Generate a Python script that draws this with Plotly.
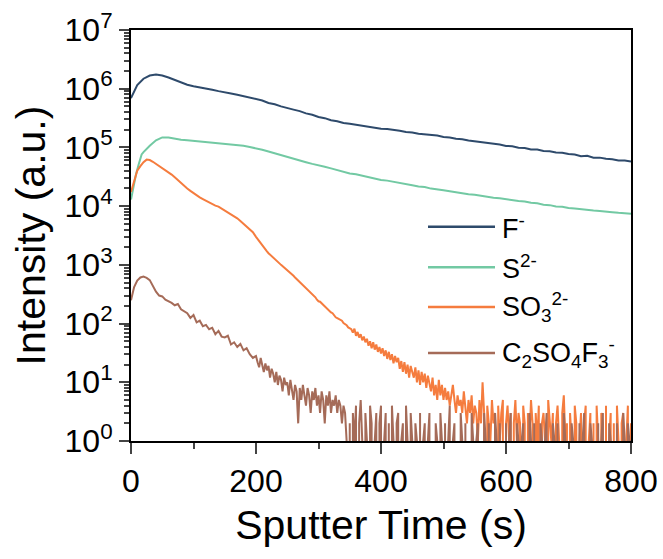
import plotly.graph_objects as go

# ---------------- data ----------------
t_f = list(range(0, 801, 10))
f_minus = [6.9e5, 1.15e6, 1.48e6, 1.68e6, 1.74e6, 1.68e6, 1.55e6, 1.41e6, 1.29e6, 1.17e6,
           1.10e6, 1.06e6, 1.00e6, 9.6e5, 9.1e5, 8.8e5, 8.3e5, 7.9e5, 7.5e5, 7.1e5,
           6.6e5, 6.3e5, 5.7e5, 5.45e5, 5.0e5, 4.75e5, 4.4e5, 4.15e5, 3.8e5, 3.6e5,
           3.3e5, 3.15e5, 2.9e5, 2.8e5, 2.6e5, 2.52e5, 2.42e5, 2.36e5, 2.22e5, 2.18e5,
           2.08e5, 2.06e5, 1.96e5, 1.92e5, 1.83e5, 1.80e5, 1.71e5, 1.68e5, 1.61e5, 1.59e5,
           1.50e5, 1.48e5, 1.40e5, 1.38e5, 1.31e5, 1.27e5, 1.22e5, 1.20e5, 1.14e5, 1.12e5,
           1.06e5, 1.05e5, 9.9e4, 9.8e4, 9.2e4, 9.2e4, 8.7e4, 8.6e4, 8.2e4, 8.1e4,
           7.7e4, 7.6e4, 7.1e4, 7.2e4, 6.7e4, 6.7e4, 6.4e4, 6.3e4, 6.0e4, 6.0e4, 5.75e4]

t_s = [0, 4, 8, 12, 15, 17] + list(range(20, 801, 10))
s_2minus = [1.3e4, 2.2e4, 3.5e4, 5.0e4, 6.9e4, 7.6e4,
            8.3e4, 1.07e5, 1.32e5, 1.48e5, 1.48e5, 1.41e5, 1.35e5, 1.32e5, 1.29e5, 1.27e5,
            1.26e5, 1.23e5, 1.20e5, 1.17e5, 1.15e5, 1.12e5, 1.07e5, 1.02e5, 9.7e4, 9.1e4,
            8.5e4, 7.9e4, 7.4e4, 6.9e4, 6.5e4, 6.0e4, 5.6e4, 5.25e4, 5.0e4, 4.7e4,
            4.4e4, 4.1e4, 3.85e4, 3.6e4, 3.5e4, 3.3e4, 3.1e4, 2.95e4, 2.8e4, 2.72e4,
            2.58e4, 2.47e4, 2.33e4, 2.27e4, 2.17e4, 2.11e4, 1.99e4, 1.94e4, 1.86e4, 1.79e4,
            1.71e4, 1.67e4, 1.59e4, 1.56e4, 1.49e4, 1.46e4, 1.39e4, 1.36e4, 1.30e4, 1.27e4,
            1.22e4, 1.20e4, 1.14e4, 1.12e4, 1.06e4, 1.04e4, 9.9e3, 9.8e3, 9.3e3, 9.1e3,
            8.8e3, 8.7e3, 8.4e3, 8.3e3, 8.0e3, 7.9e3, 7.7e3, 7.6e3, 7.4e3]

# noisy series: 5 s steps up to 200 s, then 2.5 s steps up to 800 s
t_n = list(range(0, 201, 5)) + [200 + 2.5 * i for i in range(1, 241)]

so3_2minus = [
    # 0 - 200 s
    1.74e4, 2.8e4, 4.0e4, 4.8e4, 5.6e4, 6.2e4, 6.1e4, 5.7e4, 5.25e4, 4.8e4,
    4.45e4, 4.1e4, 3.8e4, 3.45e4, 3.1e4, 2.75e4, 2.5e4, 2.25e4, 2.0e4, 1.82e4,
    1.66e4, 1.51e4, 1.41e4, 1.32e4, 1.23e4, 1.15e4, 1.10e4, 1.02e4, 9.8e3, 9.1e3,
    8.5e3, 7.8e3, 7.2e3, 6.6e3, 6.2e3, 5.6e3, 5.0e3, 4.6e3, 4.1e3, 3.6e3, 3.0e3,
    # 202.5 - 350 s
    2.75e3, 2.5e3, 2.3e3, 2.15e3, 1.98e3, 1.82e3, 1.7e3, 1.58e3, 1.5e3, 1.41e3,
    1.33e3, 1.26e3, 1.18e3, 1.12e3, 1.06e3, 1.0e3, 950, 910, 850, 810,
    770, 720, 690, 650, 610, 575, 540, 510, 490, 460,
    440, 415, 390, 365, 345, 325, 300, 280, 255, 240,
    236, 222, 212, 200, 184, 172, 166, 155, 150, 138,
    128, 124, 120, 113, 112, 102, 98, 94, 86, 83,
    # 352.5 - 800 s
    80, 70, 82, 62, 72, 58, 66, 52, 60, 48,
    55, 42, 50, 38, 48, 36, 44, 33, 40, 31,
    38, 28, 35, 25, 33, 24, 30, 21, 28, 22,
    26, 17, 23, 15, 22, 14, 20, 12, 19, 15,
    12, 18, 10, 16, 9, 15, 10, 14, 8, 13,
    10, 7, 12, 6, 9, 5, 11, 6, 9, 5,
    8, 5, 7, 4, 6, 9, 5, 3, 6, 4,
    5, 3, 7, 4, 2, 5, 3, 6, 2, 4,
    3, 1, 5, 2, 10, 3, 0, 4, 2, 1,
    5, 2, 3, 0, 4, 1, 3, 5, 0, 2,
    4, 1, 3, 0, 2, 5, 1, 3, 2, 0,
    4, 2, 0, 3, 1, 5, 2, 0, 3, 1,
    4, 0, 2, 3, 1, 0, 5, 2, 1, 3,
    0, 2, 4, 1, 0, 3, 6, 1, 2, 0,
    3, 1, 0, 4, 2, 0, 1, 3, 0, 2,
    4, 0, 1, 3, 0, 2, 0, 4, 1, 0,
    3, 2, 0, 4, 0, 1, 3, 0, 2, 0,
    4, 1, 0, 2, 3, 0, 1, 4, 0, 2]

c2so4f3_minus = [
    # 0 - 200 s
    250, 420, 540, 610, 630, 600, 550, 430, 350, 300,
    290, 255, 240, 225, 205, 215, 175, 160, 150, 125,
    140, 105, 112, 90, 95, 80, 85, 66, 75, 60,
    58, 62, 44, 48, 40, 45, 35, 38, 30, 26, 28,
    # 202.5 - 350 s
    22, 18, 26, 20, 15, 21, 16, 19, 12, 17,
    14, 10, 15, 9, 13, 11, 7, 12, 9, 10,
    6, 11, 8, 5, 9, 7, 2, 8, 5, 9,
    6, 4, 8, 6, 3, 7, 5, 8, 4, 6,
    3, 7, 5, 2, 6, 4, 7, 3, 5, 4,
    6, 3, 5, 4, 2, 4, 3, 1, 0, 2,
    # 352.5 - 800 s
    0, 3, 1, 4, 0, 2, 5, 1, 0, 3,
    1, 0, 4, 2, 0, 1, 3, 0, 2, 4,
    0, 1, 3, 0, 2, 0, 4, 1, 0, 2,
    3, 0, 1, 2, 0, 4, 1, 0, 3, 1,
    0, 2, 1, 0, 3, 0, 1, 2, 0, 1,
    3, 0, 1, 0, 2, 1, 0, 3, 1, 0,
    2, 0, 1, 4, 0, 1, 2, 0, 1, 0,
    3, 1, 0, 2, 0, 1, 0, 3, 1, 0,
    1, 2, 0, 1, 0, 3, 1, 0, 2, 0,
    1, 0, 3, 1, 0, 2, 0, 1, 0, 2,
    0, 1, 3, 0, 1, 0, 2, 1, 0, 1,
    2, 0, 1, 0, 3, 1, 0, 2, 0, 1,
    0, 2, 1, 0, 1, 3, 0, 1, 0, 2,
    1, 0, 2, 0, 1, 0, 3, 1, 0, 1,
    0, 2, 1, 0, 1, 0, 2, 0, 1, 3,
    0, 1, 0, 2, 1, 0, 1, 0, 2, 0,
    1, 3, 0, 1, 0, 2, 1, 0, 1, 0,
    2, 0, 1, 0, 3, 1, 0, 2, 1, 1]

series_names = ["F<sup>-</sup>", "S<sup>2-</sup>", "SO<sub>3</sub><sup>2-</sup>",
                "C<sub>2</sub>SO<sub>4</sub>F<sub>3</sub><sup>-</sup>"]
colors = ["#2e4a6b", "#72c9a3", "#f57c3e", "#a56b58"]

x_ticks = [0, 200, 400, 600, 800]
y_tick_vals = [1, 10, 100, 1e3, 1e4, 1e5, 1e6, 1e7]
y_tick_text = ["10<sup>%d</sup>" % i for i in range(8)]

# ---------------- figure ----------------
FONT = "Arial, Liberation Sans, sans-serif"
fig = go.Figure()
xs = [t_f, t_s, t_n, t_n]
ys = [f_minus, s_2minus, so3_2minus, c2so4f3_minus]
for x, y, name, c in zip(xs, ys, series_names, colors):
    fig.add_trace(go.Scatter(x=x, y=y, mode="lines", name=name,
                             line=dict(color=c, width=2), connectgaps=False,
                             showlegend=False))

# manual legend (line sample + label)
leg_y = [0.521, 0.423, 0.326, 0.214]
for yy, name, c in zip(leg_y, series_names, colors):
    fig.add_shape(type="line", xref="paper", yref="paper", x0=0.594, x1=0.728,
                  y0=yy, y1=yy, line=dict(color=c, width=2.5))
    fig.add_annotation(xref="paper", yref="paper", x=0.738, y=yy, text=name,
                       showarrow=False, xanchor="left", yanchor="middle",
                       font=dict(family=FONT, size=27, color="black"))

fig.update_layout(
    width=663, height=559,
    margin=dict(l=131, r=32, t=30, b=118),
    plot_bgcolor="white", paper_bgcolor="white",
    font=dict(family=FONT, color="black"),
)
fig.update_xaxes(
    range=[0, 800], tickvals=x_ticks, ticks="outside", ticklen=11, tickwidth=2,
    showline=True, linewidth=2, linecolor="black", mirror=True, showgrid=False,
    zeroline=False, tickfont=dict(size=32), automargin=False,
    minor=dict(dtick=100, tick0=0, ticks="outside", ticklen=6, tickwidth=2, showgrid=False),
    title=dict(text="Sputter Time (s)", font=dict(size=41), standoff=12),
)
fig.update_yaxes(
    type="log", range=[0, 7], tickvals=y_tick_vals, ticktext=y_tick_text,
    ticks="outside", ticklen=10, tickwidth=2, automargin=False,
    showline=True, linewidth=2, linecolor="black", mirror=True, showgrid=False,
    zeroline=False, tickfont=dict(size=32),
    minor=dict(dtick="D1", ticks="outside", ticklen=5, tickwidth=2, showgrid=False),
    title=dict(text="Intensity (a.u.)", font=dict(size=41), standoff=6),
)

fig.write_html("out.html")
